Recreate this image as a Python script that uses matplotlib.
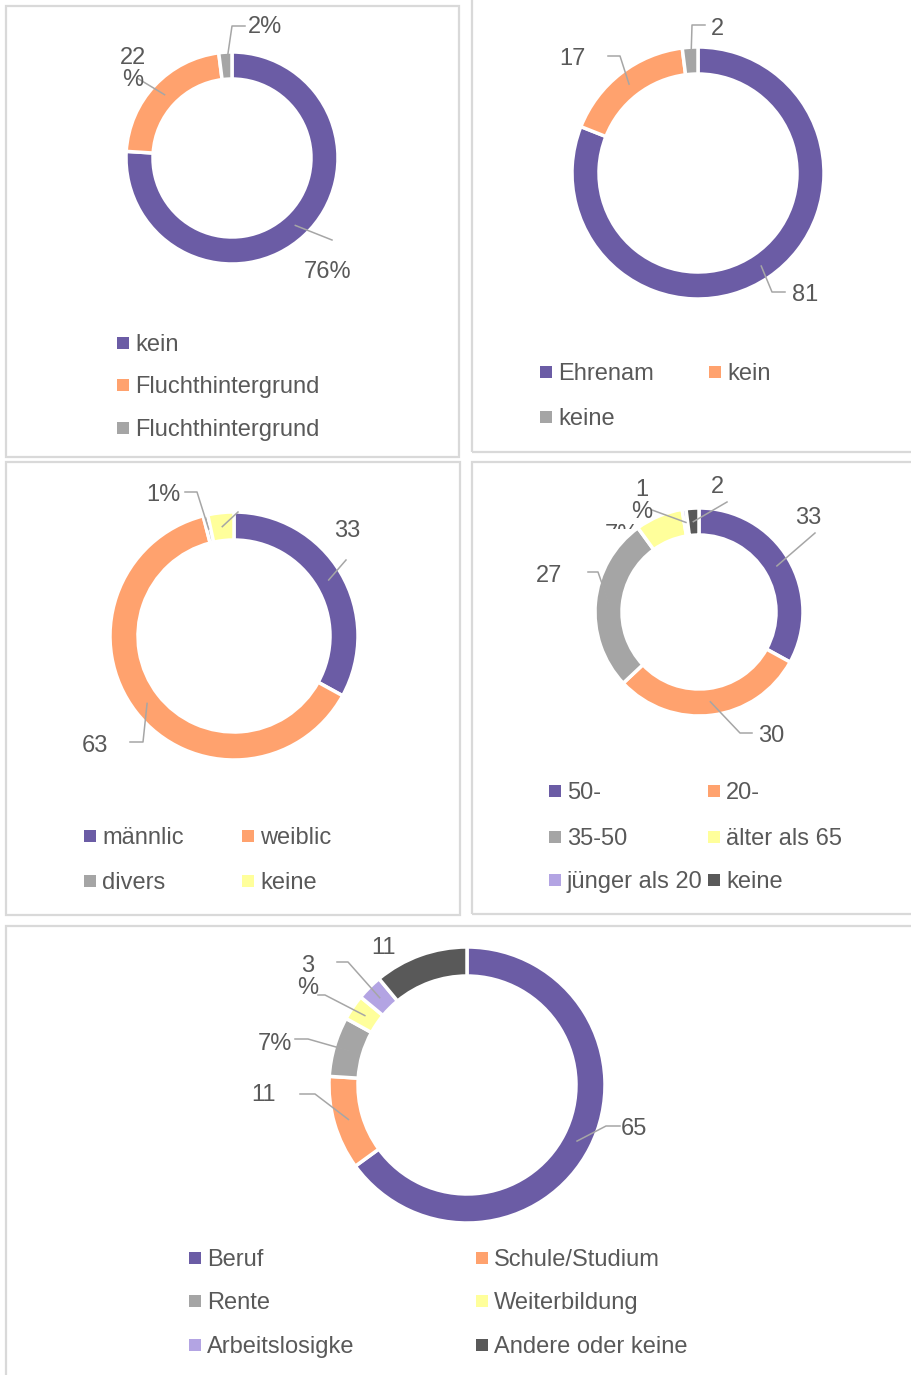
import numpy as np
import matplotlib.pyplot as plt
from matplotlib.patches import Rectangle
from matplotlib.transforms import Bbox, TransformedBbox

plt.rcParams['font.family'] = ['Liberation Sans', 'DejaVu Sans']

W, H = 912, 1375
TXT = '#595959'
FS = 17

purple = '#6b5ca5'
orange = '#ffa26e'
grey = '#a5a5a5'
yellow = '#ffff9b'
lilac = '#b3a4e3'
dark = '#595959'

# ---- data ----
p1_labels = ['kein', 'Fluchthintergrund', 'Fluchthintergrund']
p1_values = [76, 22, 2]
p1_texts = ['76%', '22\n%', '2%']

p2_labels = ['Ehrenam', 'kein', 'keine']
p2_values = [81, 17, 2]
p2_texts = ['81', '17', '2']

p3_labels = ['männlic', 'weiblic', 'divers', 'keine']
p3_values = [33, 63, 0.6, 3.4]
p3_texts = ['33', '63', '1%', '']

p4_labels = ['50-', '20-', '35-50', 'älter als 65', 'jünger als 20', 'keine']
p4_values = [33, 30, 27, 7.4, 0.6, 2]
p4_texts = ['33', '30', '27', '7%', '1\n%', '2']

p5_labels = ['Beruf', 'Schule/Studium', 'Rente', 'Weiterbildung', 'Arbeitslosigke', 'Andere oder keine']
p5_values = [65, 11, 7, 3, 3, 11]
p5_texts = ['65', '11', '7%', '3\n%', '', '11']

fig = plt.figure(figsize=(W / 100, H / 100), dpi=100)
ax = fig.add_axes([0, 0, 1, 1])


def Y(y):
    return H - y


def frame(x0, y0, x1, y1):
    ax.add_patch(Rectangle((x0, Y(y1)), x1 - x0, y1 - y0, fill=False,
                           ec='#d9d9d9', lw=1.6, clip_on=True))


def ring(values, colors, cx, cy, r, w, texts, spots):
    wedges, _ = ax.pie(values, colors=colors, center=(cx, Y(cy)), radius=r,
                       startangle=90, counterclock=False,
                       wedgeprops=dict(width=w, edgecolor='white', linewidth=2.5))
    out = []
    for wd, t, spot in zip(wedges, texts, spots):
        txy, elbow = spot
        a = np.deg2rad((wd.theta1 + wd.theta2) / 2)
        rm = r - w / 2
        px = [p[0] for p in elbow] + [cx + rm * np.cos(a)]
        py = [Y(p[1]) for p in elbow] + [Y(cy) + rm * np.sin(a)]
        if elbow:
            ax.plot(px, py, color='#a6a6a6', lw=1.1, zorder=1)
        tx = None
        if t and txy is not None:
            tx = ax.text(txy[0], Y(txy[1] + 2), t, ha='center', va='center', fontsize=FS,
                         color=TXT, linespacing=0.95, zorder=3)
        out.append(tx)
    return out


def legend(labels, colors, xs, ys, ncol):
    for i, (lab, c) in enumerate(zip(labels, colors)):
        x = xs[i % ncol]
        y = ys[i // ncol]
        ax.add_patch(Rectangle((x - 18, Y(y) - 6), 12, 12, color=c, lw=0))
        ax.text(x, Y(y + 2), lab, ha='left', va='center', fontsize=FS, color=TXT)


# panel frames
frame(6, 6, 459, 457)
frame(472, -10, 930, 452)
frame(6, 462, 460, 915)
frame(472, 462, 930, 914)
frame(6, 926, 930, 1390)

# panel 1
ring(p1_values, [purple, orange, grey], 232, 158, 106, 27, p1_texts,
     [((328, 270), [(332, 240)]),
      ((133, 67), [(137, 78)]),
      ((265, 25), [(245, 26), (232, 26)])])
legend(p1_labels, [purple, orange, grey], [135], [343, 385, 428], 1)

# panel 2
ring(p2_values, [purple, orange, grey], 698, 173, 126, 27, p2_texts,
     [((805, 293), [(785, 292), (772, 292)]),
      ((572, 57), [(608, 56), (620, 56)]),
      ((717, 27), [(705, 25), (692, 25)])])
legend(p2_labels, [purple, orange, grey], [558, 727], [372, 417], 2)

# panel 3
ring(p3_values, [purple, orange, grey, yellow], 234, 636, 124, 28, p3_texts,
     [((347, 529), [(346, 560)]),
      ((95, 744), [(130, 742), (143, 742)]),
      ((163, 493), [(185, 492), (197, 492)]),
      (None, [(238, 512)])])
legend(p3_labels, [purple, orange, grey, yellow], [102, 260], [836, 881], 2)

# panel 4
t4 = ring(p4_values, [purple, orange, grey, yellow, lilac, dark], 699, 612, 104, 27, p4_texts,
          [((808, 516), [(815, 533)]),
           ((771, 734), [(752, 733), (740, 733)]),
           ((549, 574), [(588, 572), (598, 572)]),
           ((622, 533), []),
           ((642, 499), [(652, 510)]),
           ((717, 485), [(727, 502)])])
# the "7%" label sits half behind the plot area in the original
t4[3].set_clip_on(True)
t4[3].set_clip_box(TransformedBbox(Bbox([[560, Y(529)], [700, Y(505)]]), ax.transData))
legend(p4_labels, [purple, orange, grey, yellow, lilac, dark], [567, 726], [791, 837, 880], 2)

# panel 5
ring(p5_values, [purple, orange, grey, yellow, lilac, dark], 467, 1085, 138, 29, p5_texts,
     [((634, 1127), [(620, 1126), (606, 1126)]),
      ((264, 1093), [(300, 1094), (315, 1094)]),
      ((275, 1042), [(295, 1039), (308, 1039)]),
      ((308, 975), [(318, 995), (325, 995)]),
      (None, [(337, 962), (348, 962)]),
      ((384, 946), [])])
legend(p5_labels, [purple, orange, grey, yellow, lilac, dark], [207, 494], [1258, 1301, 1345], 2)

ax.set_xlim(0, W)
ax.set_ylim(0, H)
ax.set_aspect('equal')
ax.axis('off')

fig.savefig('out.png', dpi=100, facecolor='white')
